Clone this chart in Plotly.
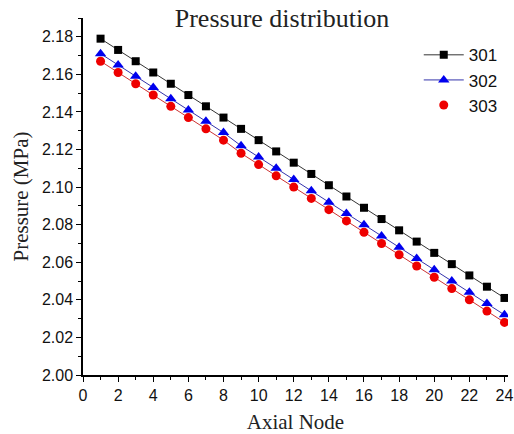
import plotly.graph_objects as go

nodes = list(range(1, 25))
p301 = [2.179, 2.173, 2.167, 2.161, 2.155, 2.149, 2.143, 2.137, 2.131, 2.125, 2.119, 2.113,
        2.107, 2.101, 2.095, 2.089, 2.083, 2.077, 2.071, 2.065, 2.059, 2.053, 2.047, 2.041]
p302 = [2.171, 2.165, 2.159, 2.153, 2.147, 2.141, 2.135, 2.129, 2.122, 2.116, 2.110, 2.104,
        2.098, 2.092, 2.086, 2.080, 2.074, 2.068, 2.062, 2.056, 2.050, 2.044, 2.038, 2.032]
p303 = [2.167, 2.161, 2.155, 2.149, 2.143, 2.137, 2.131, 2.125, 2.118, 2.112, 2.106, 2.100,
        2.094, 2.088, 2.082, 2.076, 2.070, 2.064, 2.058, 2.052, 2.046, 2.040, 2.034, 2.028]

fig = go.Figure()
fig.add_trace(go.Scatter(x=nodes, y=p301, name="301", mode="lines+markers",
                         line=dict(color="#333333", width=1),
                         marker=dict(symbol="square", size=8, color="black")))
fig.add_trace(go.Scatter(x=nodes, y=p302, name="302", mode="lines+markers",
                         line=dict(color="#3333aa", width=1),
                         marker=dict(symbol="triangle-up", size=10, color="#0000ee")))
fig.add_trace(go.Scatter(x=nodes, y=p303, mode="lines", showlegend=False,
                         line=dict(color="#cc3333", width=1), hoverinfo="skip"))
fig.add_trace(go.Scatter(x=nodes, y=p303, name="303", mode="markers",
                         marker=dict(symbol="circle", size=9, color="#ee0000")))

fig.update_layout(
    width=514, height=434,
    margin=dict(l=83, r=6, t=18, b=59, autoexpand=False),
    paper_bgcolor="white", plot_bgcolor="white",
    title=dict(text="Pressure distribution", x=282 / 514, xanchor="center", y=1 - 18 / 434, yanchor="middle",
               font=dict(family="Liberation Serif", size=26, color="#222")),
    legend=dict(x=0.79, y=0.946, xanchor="left", yanchor="top",
                font=dict(family="Liberation Sans", size=17, color="#111"),
                bgcolor="rgba(0,0,0,0)", tracegroupgap=0, itemwidth=40),
    xaxis=dict(range=[0, 24.2], tickmode="linear", tick0=0, dtick=2, automargin=False,
               ticks="outside", ticklen=5, tickwidth=1, tickcolor="black",
               showline=True, linecolor="black", linewidth=1.5, showgrid=False, zeroline=False,
               minor=dict(dtick=1, ticks="outside", ticklen=3, tickcolor="black", showgrid=False),
               tickfont=dict(family="Liberation Sans", size=16, color="#111"),
               title=dict(text="Axial Node", font=dict(family="Liberation Serif", size=21, color="#222"),
                          standoff=14)),
    yaxis=dict(range=[2.0, 2.19], tickmode="linear", tick0=2.0, dtick=0.02, tickformat=".2f",
               automargin=False,
               ticks="outside", ticklen=5, tickwidth=1, tickcolor="black",
               showline=True, linecolor="black", linewidth=1.5, showgrid=False, zeroline=False,
               minor=dict(dtick=0.01, ticks="outside", ticklen=3, tickcolor="black", showgrid=False),
               tickfont=dict(family="Liberation Sans", size=16, color="#111"),
               title=dict(text="Pressure (MPa)", font=dict(family="Liberation Serif", size=21, color="#222"),
                          standoff=8)),
)

fig.write_html("out.html", config={"displayModeBar": False},
               post_script="document.body.style.margin='0';")
